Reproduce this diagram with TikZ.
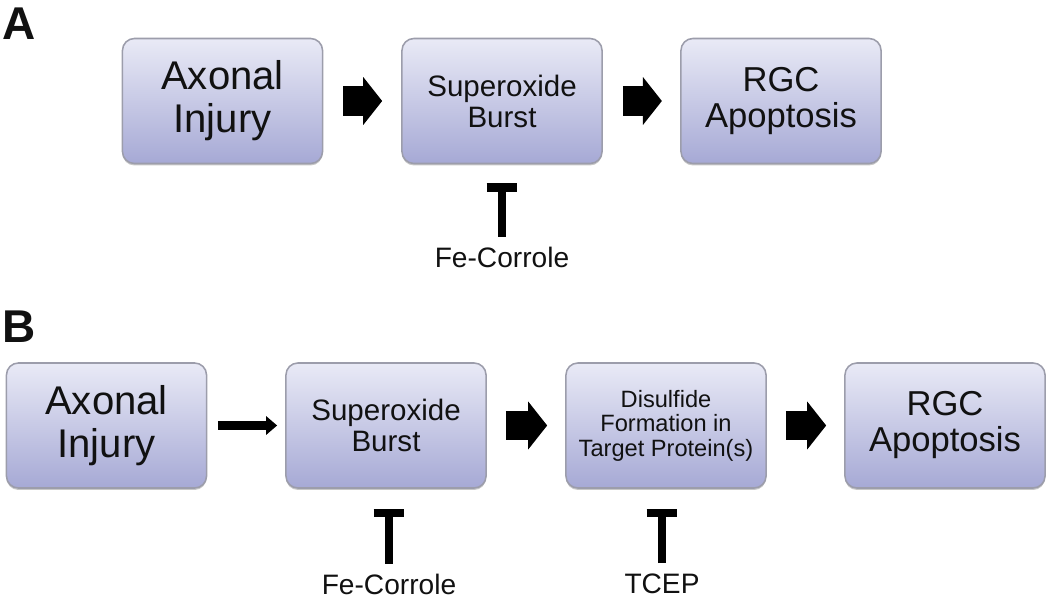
\documentclass[tikz,border=0pt]{standalone}
\usepackage{fontspec}
\setmainfont{Liberation Sans}
\usetikzlibrary{arrows.meta,shadows}
\definecolor{boxtop}{HTML}{E9EAF6}
\definecolor{boxbot}{HTML}{A6A9D5}
\definecolor{boxline}{HTML}{9C9DAB}
\definecolor{ink}{HTML}{111111}
\tikzset{
  stepbox/.style={draw=boxline, line width=1.1pt, rounded corners=8.5pt, top color=boxtop, bottom color=boxbot,
    minimum width=142.3pt, minimum height=88.9pt, align=center, text=ink, inner sep=0pt,
    drop shadow={shadow xshift=0pt, shadow yshift=-1.4pt, opacity=0.22, fill=black}},
  big/.style={font=\fontsize{28.5}{30.6}\selectfont},
  mid/.style={font=\fontsize{21}{22}\selectfont},
  rgc/.style={font=\fontsize{24.6}{25.6}\selectfont},
  small/.style={font=\fontsize{16.8}{17.4}\selectfont},
  drug/.style={text=ink, inner sep=0pt, anchor=base, font=\fontsize{20}{22}\selectfont},
  panel/.style={text=ink, inner sep=0pt, anchor=base west, font=\bfseries\fontsize{32.7}{34}\selectfont},
  fat/.style={draw=black, line width=21.3pt, -{Triangle[length=13.5pt, width=33.4pt]}},
  thin/.style={draw=black, line width=7.1pt, -{Triangle[length=7.8pt, width=12.8pt]}},
  inhib/.style={draw=black, line width=5.9pt, -{Bar[width=22pt]}}
}

\begin{document}
\begin{tikzpicture}[x=0.025cm, y=-0.025cm]
  \useasboundingbox (0,0) rectangle (1050,598);
  \node[panel] (lblA) at (2,39) {A};
  \node[panel] (lblB) at (2,342) {B};

  \node[stepbox, big] (injA) at (222.5,101) {Axonal\\Injury};
  \node[stepbox, mid] (supA) at (502,101) {Superoxide\\Burst};
  \node[stepbox, rgc] (rgcA) at (781,101) {RGC\\Apoptosis};
  \node[drug] (feA) at (502,267) {Fe-Corrole};
  \draw[fat, shorten <=14.2pt, shorten >=13.5pt] (injA.east) -- (supA.west);
  \draw[fat, shorten <=14.2pt, shorten >=13pt] (supA.east) -- (rgcA.west);
  \draw[inhib, shorten <=7pt, shorten >=13.5pt] (feA.north) -- (feA.north |- supA.south);

  \node[stepbox, big] (injB) at (106.5,425.5) {Axonal\\Injury};
  \node[stepbox, mid] (supB) at (386,425.5) {Superoxide\\Burst};
  \node[stepbox, small] (disB) at (666,425.5) {Disulfide\\Formation in\\Target Protein(s)};
  \node[stepbox, rgc] (rgcB) at (945,425.5) {RGC\\Apoptosis};
  \node[drug] (feB) at (389,594) {Fe-Corrole};
  \node[drug] (tcep) at (662,593) {TCEP};
  \draw[thin, shorten <=7.5pt, shorten >=5.7pt] (injB.east) -- (supB.west);
  \draw[fat, shorten <=13.5pt, shorten >=12.8pt] (supB.east) -- (disB.west);
  \draw[fat, shorten <=13.5pt, shorten >=12.8pt] (disB.east) -- (rgcB.west);
  \draw[inhib, shorten <=7pt, shorten >=14.2pt] (feB.north) -- (feB.north |- supB.south);
  \draw[inhib, shorten <=7pt, shorten >=14.2pt] (tcep.north) -- (tcep.north |- disB.south);
\end{tikzpicture}
\end{document}
